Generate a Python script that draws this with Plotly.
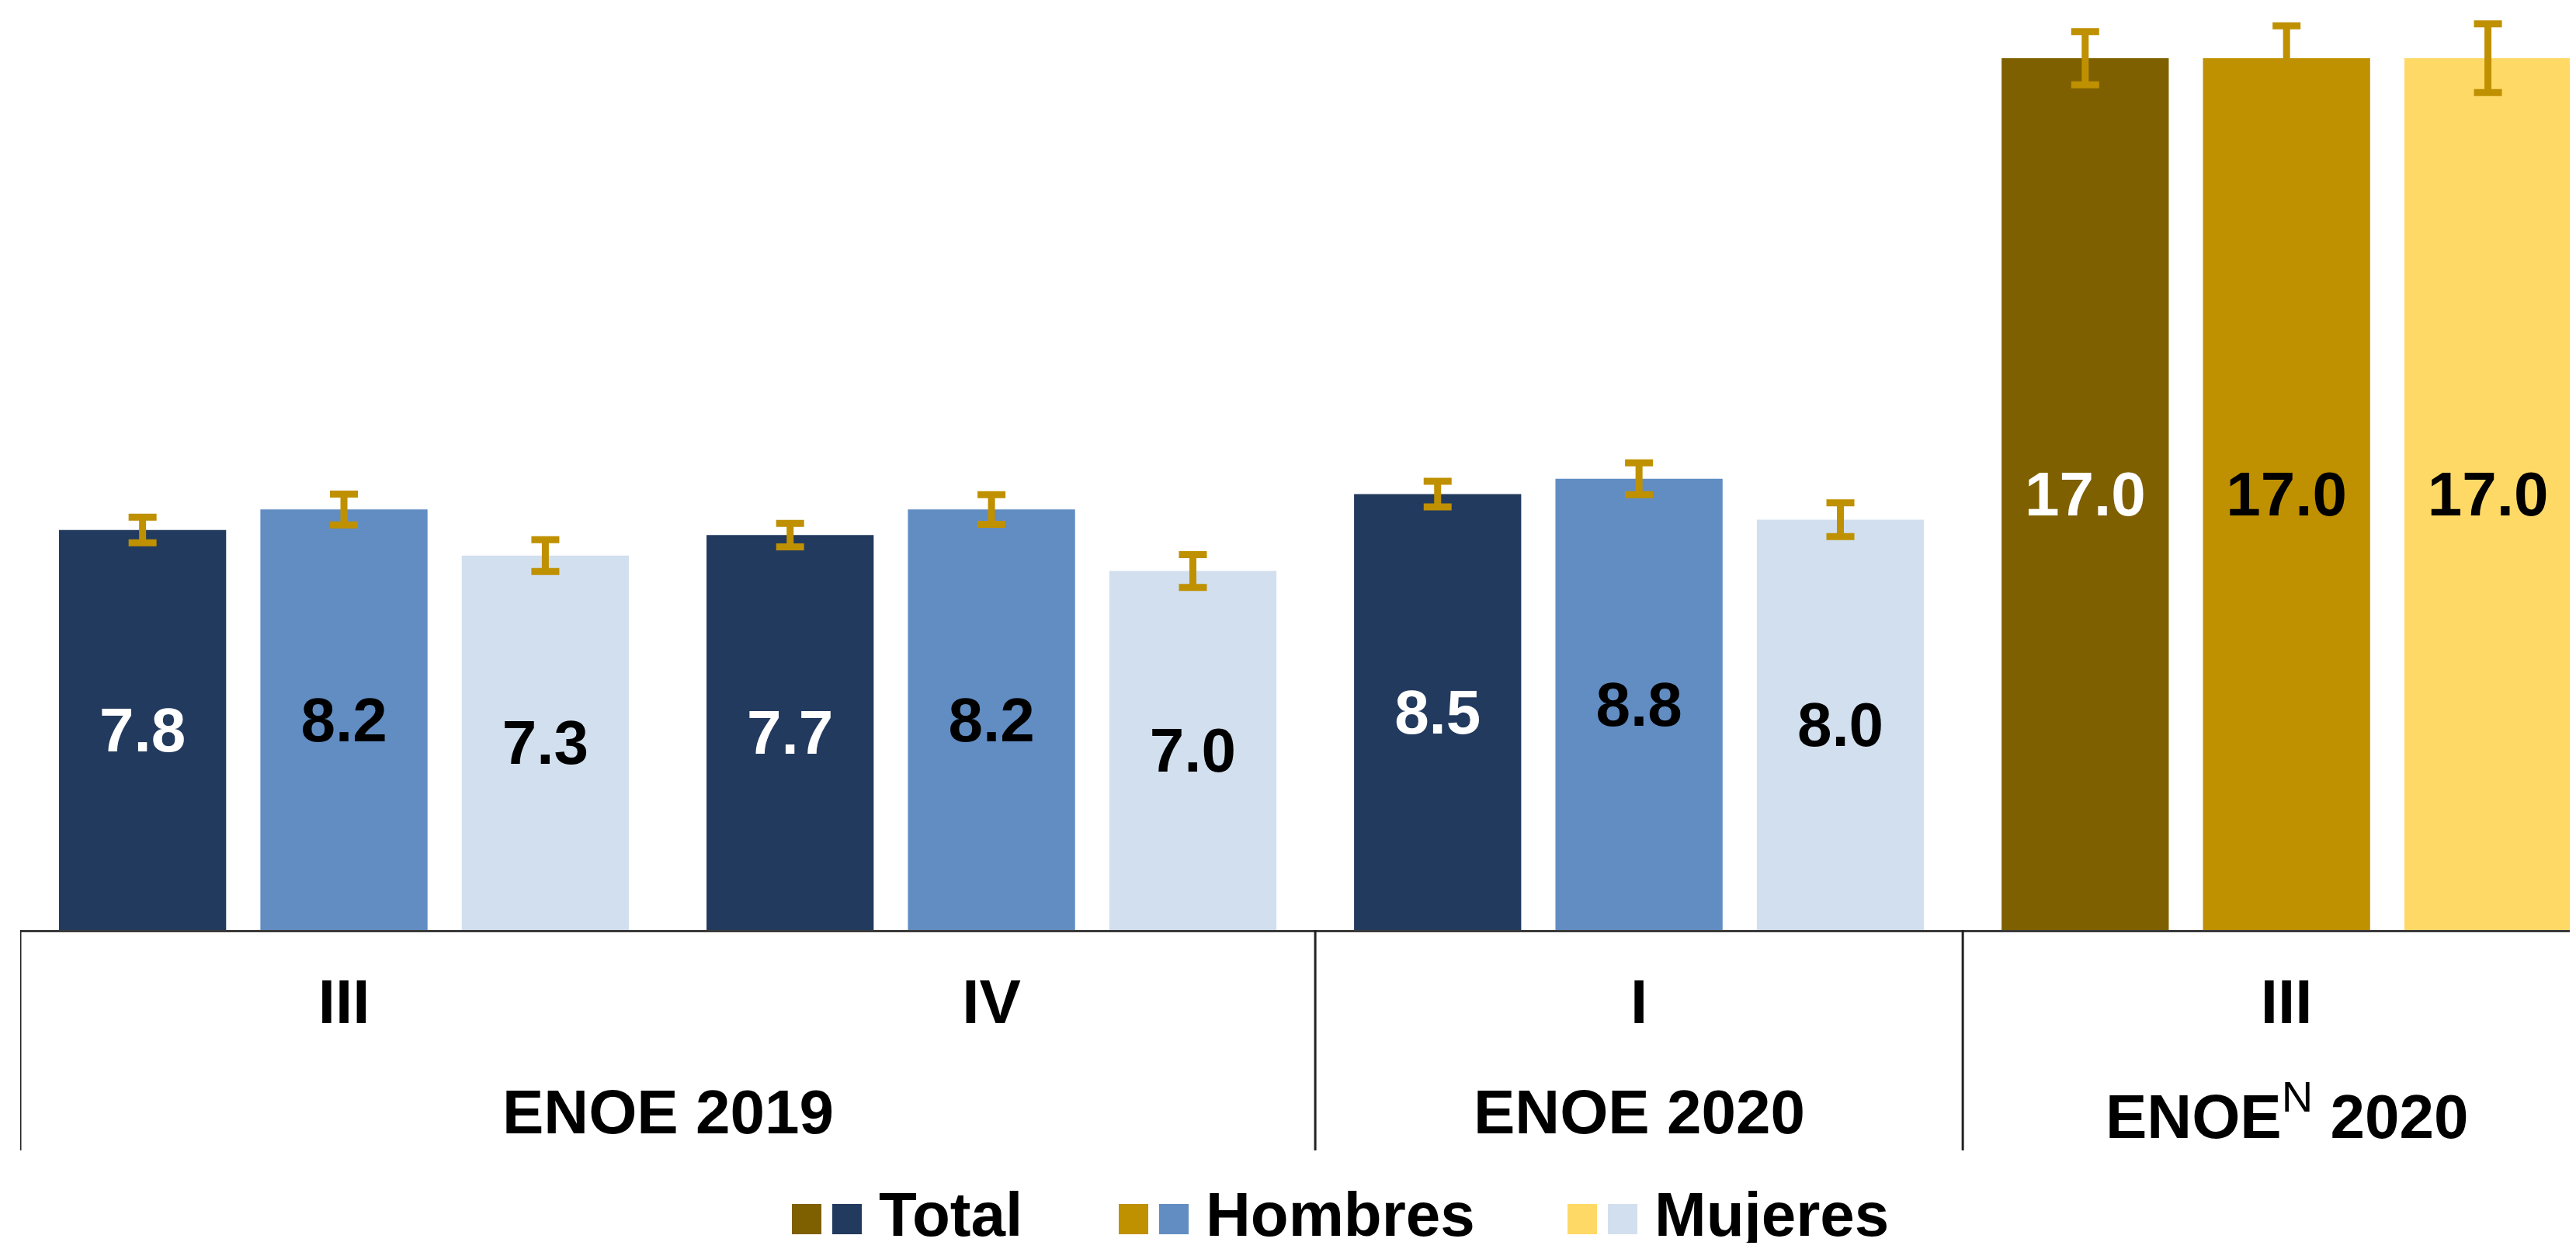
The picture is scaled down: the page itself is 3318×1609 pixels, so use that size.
import plotly.graph_objects as go

# ---- data ----
categories = ["III-2019", "IV-2019", "I-2020", "III-2020N"]
period_labels = ["III", "IV", "I", "III"]
group_labels = ["<b>ENOE 2019</b>", "<b>ENOE 2020</b>", "<b>ENOE</b><sup>N</sup><b> 2020</b>"]
group_members = [[0, 1], [2], [3]]
total = [7.8, 7.7, 8.5, 17.0]
hombres = [8.2, 8.2, 8.8, 17.0]
mujeres = [7.3, 7.0, 8.0, 17.0]
err_total = [0.25, 0.23, 0.25, 0.52]
err_hombres = [0.30, 0.29, 0.31, 0.63]
err_mujeres = [0.31, 0.32, 0.33, 0.67]

col_total = ["#223A5E", "#223A5E", "#223A5E", "#7F6000"]
col_hombres = ["#618DC2", "#618DC2", "#618DC2", "#BF9000"]
col_mujeres = ["#D2DFEE", "#D2DFEE", "#D2DFEE", "#FFD966"]
err_color = "#BF9000"

legend_names = ["Total", "Hombres", "Mujeres"]
legend_cols = [("#7F6000", "#223A5E"), ("#BF9000", "#618DC2"), ("#FFD966", "#D2DFEE")]

FONT = "Liberation Sans, Arial, sans-serif"
BODY = 8                      # default body margin of the html page
W, H = 3318 - BODY, 1609 - 2 * BODY
ML = 26 - BODY
BASE_ABS = 1198               # absolute y of the baseline in the page
PLOT_H = BASE_ABS - BODY
MB = H - PLOT_H

fig = go.Figure()
for vals, errs, cols, txtcol, name in [
    (total, err_total, col_total, "white", "Total"),
    (hombres, err_hombres, col_hombres, "black", "Hombres"),
    (mujeres, err_mujeres, col_mujeres, "black", "Mujeres"),
]:
    fig.add_trace(go.Bar(
        x=categories, y=vals, name=name,
        marker=dict(color=cols, line=dict(width=0)),
        texttemplate="%{y:.1f}", textposition="inside", insidetextanchor="middle",
        textangle=0, constraintext="none",
        textfont=dict(family=FONT, size=80, color=txtcol, weight="bold"),
        error_y=dict(type="data", array=errs, color=err_color, thickness=9, width=18),
        showlegend=False,
    ))

fig.update_layout(
    width=W, height=H,
    margin=dict(l=ML, r=0, t=0, b=MB, pad=0),
    paper_bgcolor="white", plot_bgcolor="white",
    barmode="group", bargap=0.067, bargroupgap=0.17,
    font=dict(family=FONT, size=80, color="black"),
    xaxis=dict(
        type="category", range=[-0.5, 3.447],
        tickmode="array", tickvals=categories, ticktext=period_labels,
        showline=True, linecolor="#3A3A3A", linewidth=3,
        ticks="", ticklabelstandoff=21,
        tickfont=dict(family=FONT, size=80, color="black", weight="bold"),
        showgrid=False, zeroline=False,
    ),
    yaxis=dict(visible=False, range=[0, PLOT_H / 66.06], showgrid=False, zeroline=False),
)


def abs_to_paper_y(py):
    return (BASE_ABS - py) / PLOT_H


def abs_to_paper_x(px):
    return (px - 26) / (W - ML)


# ---- group labels and dividers (second level of the category axis) ----
div_bottom = abs_to_paper_y(1482)
edges = sorted({m[0] - 0.5 for m in group_members} | {m[-1] + 0.5 for m in group_members})
for e in edges:
    fig.add_shape(type="line", xref="x", yref="paper", x0=e, x1=e, y0=0, y1=div_bottom,
                  line=dict(color="#222222", width=3), layer="above")
for lab, members in zip(group_labels, group_members):
    fig.add_annotation(xref="x", yref="paper", x=sum(members) / len(members),
                       y=abs_to_paper_y(1432), xanchor="center", yanchor="middle",
                       showarrow=False, text=lab,
                       font=dict(family=FONT, size=80, color="black"))

# ---- custom legend (two swatches per entry) ----
sw_x0 = [1020, 1441, 2019]
sw_w, sw_gap = 38, 14
sw_y0, sw_y1 = 1551, 1590
for i, (name, (c1, c2)) in enumerate(zip(legend_names, legend_cols)):
    x0 = sw_x0[i]
    for j, c in enumerate((c1, c2)):
        xa = x0 + j * (sw_w + sw_gap)
        fig.add_shape(type="rect", xref="paper", yref="paper",
                      x0=abs_to_paper_x(xa), x1=abs_to_paper_x(xa + sw_w),
                      y0=abs_to_paper_y(sw_y1), y1=abs_to_paper_y(sw_y0),
                      fillcolor=c, line=dict(width=0))
    fig.add_annotation(xref="paper", yref="paper",
                       x=abs_to_paper_x(x0 + 2 * sw_w + sw_gap + 20), y=abs_to_paper_y(1564),
                       xanchor="left", yanchor="middle", showarrow=False,
                       text=name,
                       font=dict(family=FONT, size=80, color="black", weight="bold"))

fig.write_html("out.html")
